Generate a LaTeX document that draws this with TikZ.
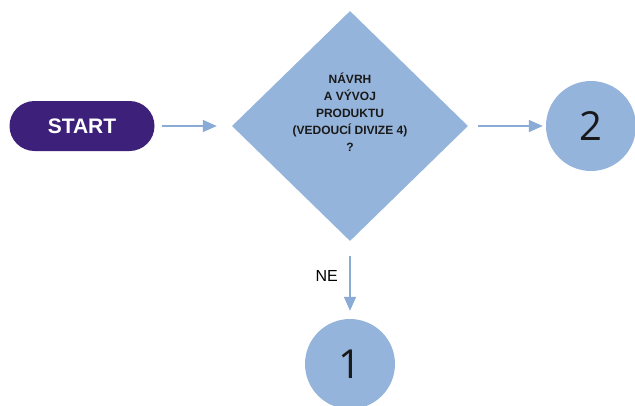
\documentclass[tikz,border=0pt]{standalone}
\usepackage{fontspec}
\setmainfont{Liberation Sans}
\newfontfamily\numfont{Open Sans}
\usetikzlibrary{shapes.geometric,arrows.meta}

\definecolor{startcol}{RGB}{61,32,122}
\definecolor{boxcol}{RGB}{149,180,219}
\definecolor{arrowcol}{RGB}{138,171,214}

\tikzset{
  startbox/.style={fill=startcol, rounded corners=25pt, minimum width=145pt,
    minimum height=50pt, text=white, font=\fontsize{21}{24}\selectfont\bfseries},
  decision/.style={diamond, fill=boxcol, minimum width=236pt,
    minimum height=230pt, inner sep=0pt},
  dtext/.style={align=center, text=black!90,
    font=\fontsize{12}{17}\selectfont\bfseries},
  connector/.style={circle, fill=boxcol, minimum size=90pt, inner sep=0pt,
    text=black!90, font=\numfont\fontsize{40}{44}\selectfont},
  flow/.style={draw=arrowcol, line width=1.5pt,
    -{Triangle[length=14pt,width=12pt]}}
}

\begin{document}
\begin{tikzpicture}[x=1pt,y=-1pt]

\useasboundingbox (0,0) rectangle (635,405);

\node[startbox] (start) at (82,126) {START};
\node[decision] (d) at (350,126) {};
\node[dtext] (q) at ([yshift=14pt]d.center) {NÁVRH\\A VÝVOJ\\PRODUKTU\\(VEDOUCÍ DIVIZE 4)\\?};

\node[connector] (two) at (591,126) {2};
\node[connector] (one) at (350,364) {1};

% sipky
\draw[flow, shorten <=7pt, shorten >=15pt] (start) -- (d);
\draw[flow, shorten <=10pt, shorten >=3pt] (d.east) -- (two);
\draw[flow, shorten <=15pt, shorten >=8pt] (d.south) -- (one)
  node[pos=0.45, left=8pt, font=\fontsize{16}{18}\selectfont] (ne) {NE};

\end{tikzpicture}
\end{document}
